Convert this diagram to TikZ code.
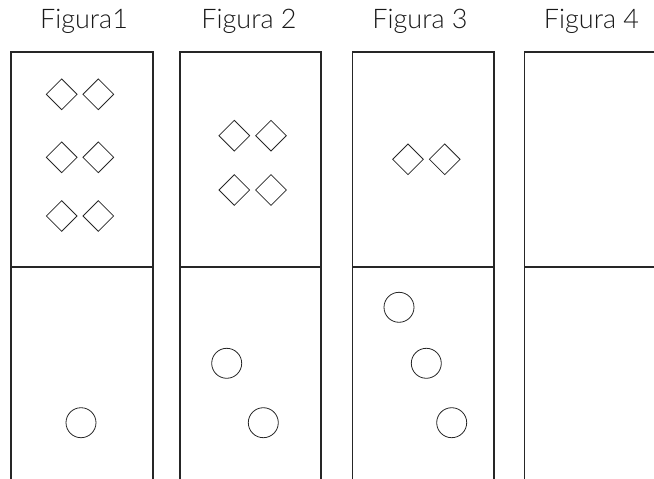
\documentclass[tikz,border=0pt]{standalone}
\usepackage{fontspec}
\setmainfont{Lato Light}
\usetikzlibrary{shapes.geometric}
\begin{document}
\begin{tikzpicture}[x=1pt,y=-1pt,
  panel/.style={line width=1.3pt,draw=black!85},
  dia/.style={draw=black!85,line width=0.8pt,shape=diamond,inner sep=0pt,minimum width=31pt,minimum height=31pt},
  circ/.style={draw=black!85,line width=0.8pt,shape=circle,inner sep=0pt,minimum size=30pt},
  title/.style={font=\fontsize{27}{30}\selectfont,text=black!90,inner sep=0pt,anchor=base}]
\useasboundingbox (0,0) rectangle (654,479);
% titles
\node[title] (t1) at (84,28.7) {Figura1};
\node[title] (t2) at (249,28.7) {Figura 2};
\node[title] (t3) at (420,28.7) {Figura 3};
\node[title] (t4) at (591.5,28.7) {Figura 4};
% panels
\draw[panel] (11,480) -- (11,52) -- (153,52) -- (153,480);
\draw[panel] (11,267) -- (153,267);
\draw[panel] (180,480) -- (180,52) -- (321,52) -- (321,480);
\draw[panel] (180,267) -- (321,267);
\draw[panel] (352.5,480) -- (352.5,52) -- (494,52) -- (494,480);
\draw[panel] (352.5,267) -- (494,267);
\draw[panel] (524.5,480) -- (524.5,52) -- (660,52);
\draw[panel] (524.5,267) -- (660,267);
% diamonds
\node[dia] (d11) at (61.7,94.3) {};
\node[dia] (d12) at (98.3,94.3) {};
\node[dia] (d13) at (61.7,157.3) {};
\node[dia] (d14) at (98.3,157.3) {};
\node[dia] (d15) at (61.7,216) {};
\node[dia] (d16) at (98.3,216) {};
\node[dia] (d21) at (234.3,135.7) {};
\node[dia] (d22) at (271,135.7) {};
\node[dia] (d23) at (234.3,190) {};
\node[dia] (d24) at (271,190) {};
\node[dia] (d31) at (408,159.3) {};
\node[dia] (d32) at (444.7,159.3) {};
% circles
\node[circ] (c11) at (81,422.7) {};
\node[circ] (c21) at (226.7,363.3) {};
\node[circ] (c22) at (263.3,422.7) {};
\node[circ] (c31) at (399,307.3) {};
\node[circ] (c32) at (426.3,363.3) {};
\node[circ] (c33) at (451.7,422.7) {};
\end{tikzpicture}
\end{document}
